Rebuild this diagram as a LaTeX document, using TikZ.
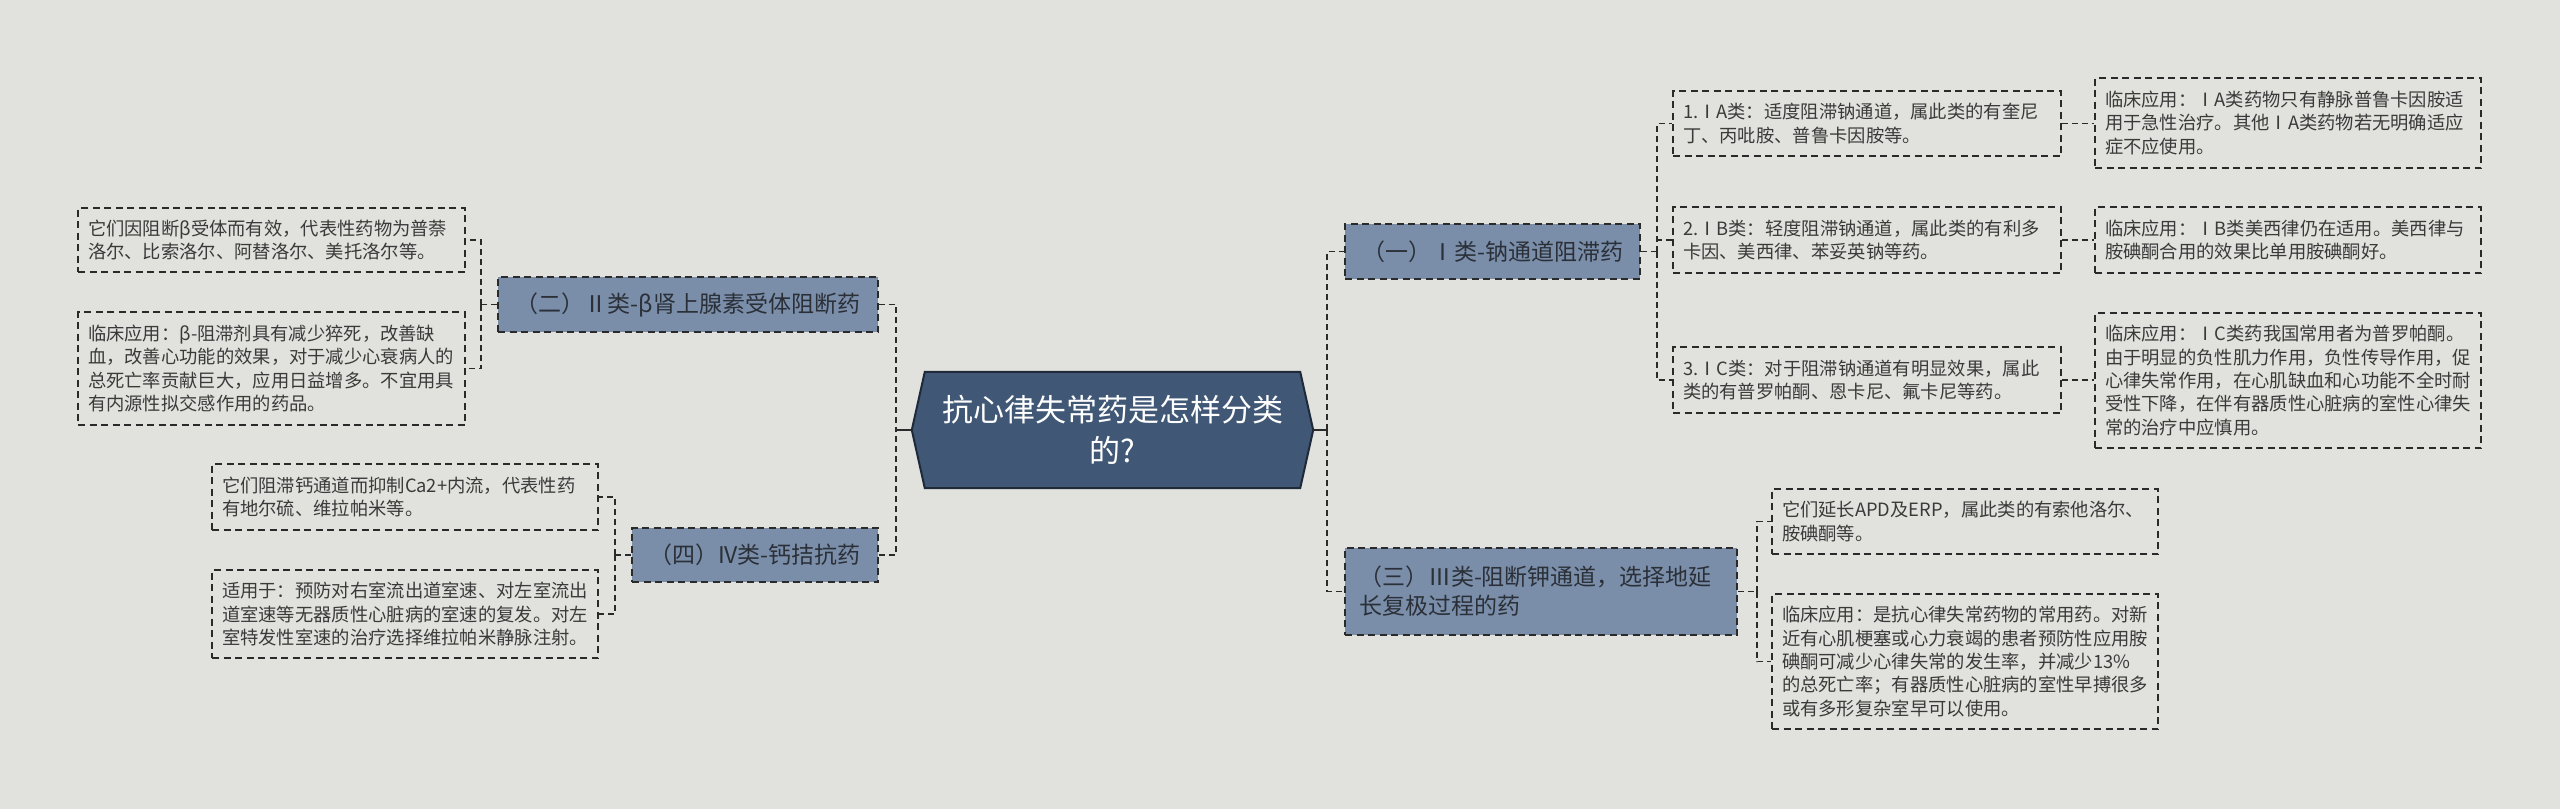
\documentclass[tikz,border=0pt]{standalone}
\usepackage{fontspec}
\newfontfamily\cjk{Noto Sans CJK SC}
\definecolor{bgc}{HTML}{E1E2DD}
\definecolor{rootfill}{HTML}{405876}
\definecolor{rootline}{HTML}{1E2A3A}
\definecolor{branchfill}{HTML}{7A8EAA}
\definecolor{branchtext}{HTML}{2B3038}
\definecolor{leaftext}{HTML}{3A3A3A}
\definecolor{dashc}{HTML}{2A2A2A}
\newcommand{\leaffont}{\cjk\fontsize{18.3}{23.3}\selectfont}
\newcommand{\branchfont}{\cjk\fontsize{23}{29}\selectfont}
\newcommand{\rootfont}{\cjk\fontsize{31}{41}\selectfont}
\tikzset{
  boxdash/.style={draw=dashc, line width=1.4pt, dash pattern=on 7pt off 4.5pt},
  leaf/.style={boxdash, text=leaftext, font=\leaffont, align=left, inner xsep=10pt, inner ysep=0pt, text width=#1},
  leaf/.default=366pt,
  branch/.style={boxdash, fill=branchfill, text=branchtext, font=\branchfont, align=center, inner sep=0pt},
  link/.style={draw=dashc, line width=1.8pt, dash pattern=on 6pt off 4pt},
  rootlink/.style={draw=dashc, line width=1.8pt},
}
\begin{document}
\begin{tikzpicture}[x=1pt,y=-1pt]
\fill[bgc] (0,0) rectangle (2560,809);
\useasboundingbox (0,0) rectangle (2560,809);

% root
\node[minimum width=401pt, minimum height=116pt, inner sep=0pt, text=white, font=\rootfont, align=center] (root) at (1112.5,430) {};
\draw[fill=rootfill, draw=rootline, line width=2pt]
  (root.west) -- ([xshift=13pt]root.north west) -- ([xshift=-13pt]root.north east) -- (root.east)
  -- ([xshift=-13pt]root.south east) -- ([xshift=13pt]root.south west) -- cycle;
\node[text=white, font=\rootfont, align=center, inner sep=0pt] (roottext) at (root.center) {抗心律失常药是怎样分类\\的?};

% branches
\node[branch, minimum width=380pt, minimum height=55pt] (b2) at (688,304.5) {（二）Ⅱ类-β肾上腺素受体阻断药};
\node[branch, minimum width=246pt, minimum height=54pt] (b4) at (755,555) {（四）IV类-钙拮抗药};
\node[branch, minimum width=295pt, minimum height=55pt] (b1) at (1492.5,251.5) {（一）Ⅰ类-钠通道阻滞药};
\node[branch, minimum height=87pt, text width=364pt, inner xsep=14pt, align=left] (b3) at (1541,591.5) {（三）Ⅲ类-阻断钾通道，选择地延\\长复极过程的药};

% left leaves
\node[leaf=367pt, minimum height=64pt] (l1) at (271.5,240) {它们因阻断β受体而有效，代表性药物为普萘\\洛尔、比索洛尔、阿替洛尔、美托洛尔等。};
\node[leaf=367pt, minimum height=113pt] (l2) at (271.5,368.5) {临床应用：β-阻滞剂具有减少猝死，改善缺\\血，改善心功能的效果，对于减少心衰病人的\\总死亡率贡献巨大，应用日益增多。不宜用具\\有内源性拟交感作用的药品。};
\node[leaf, minimum height=66pt] (l3) at (405,497) {它们阻滞钙通道而抑制Ca2+内流，代表性药\\有地尔硫、维拉帕米等。};
\node[leaf, minimum height=88pt] (l4) at (405,614) {适用于：预防对右室流出道室速、对左室流出\\道室速等无器质性心脏病的室速的复发。对左\\室特发性室速的治疗选择维拉帕米静脉注射。};

% right leaves
\node[leaf=368pt, minimum height=65pt] (r1) at (1867,123.5) {1.ⅠA类：适度阻滞钠通道，属此类的有奎尼\\丁、丙吡胺、普鲁卡因胺等。};
\node[leaf, minimum height=90pt] (r1c) at (2288,123) {临床应用：ⅠA类药物只有静脉普鲁卡因胺适\\用于急性治疗。其他ⅠA类药物若无明确适应\\症不应使用。};
\node[leaf=368pt, minimum height=66pt] (r2) at (1867,240) {2.ⅠB类：轻度阻滞钠通道，属此类的有利多\\卡因、美西律、苯妥英钠等药。};
\node[leaf, minimum height=66pt] (r2c) at (2288,240) {临床应用：ⅠB类美西律仍在适用。美西律与\\胺碘酮合用的效果比单用胺碘酮好。};
\node[leaf=368pt, minimum height=66pt] (r3) at (1867,380) {3.ⅠC类：对于阻滞钠通道有明显效果，属此\\类的有普罗帕酮、恩卡尼、氟卡尼等药。};
\node[leaf, minimum height=135pt] (r3c) at (2288,380.5) {临床应用：ⅠC类药我国常用者为普罗帕酮。\\由于明显的负性肌力作用，负性传导作用，促\\心律失常作用，在心肌缺血和心功能不全时耐\\受性下降，在伴有器质性心脏病的室性心律失\\常的治疗中应慎用。};
\node[leaf, minimum height=65pt] (r4) at (1965,521.5) {它们延长APD及ERP，属此类的有索他洛尔、\\胺碘酮等。};
\node[leaf, minimum height=135pt] (r5) at (1965,661.5) {临床应用：是抗心律失常药物的常用药。对新\\近有心肌梗塞或心力衰竭的患者预防性应用胺\\碘酮可减少心律失常的发生率，并减少13\%\\的总死亡率；有器质性心脏病的室性早搏很多\\或有多形复杂室早可以使用。};

% junctions
\coordinate (jl) at (896,430);
\coordinate (jr) at (1327,430);
\coordinate (j1) at (1657,251.5);
\coordinate (j2) at (481,304.5);
\coordinate (j3) at (1757,591.5);
\coordinate (j4) at (615,555);

% connectors
\draw[rootlink] (root.west) -- (jl);
\draw[rootlink] (root.east) -- (jr);
\draw[link] (b2.east) -| (jl);
\draw[link] (b4.east) -| (jl);
\draw[link] (jr) |- (b1.west);
\draw[link] (jr) |- (b3.west);

\draw[link] (b1.east) -- (j1);
\draw[link] (j1) |- (r1.west);
\draw[link] (j1) |- (r2.west);
\draw[link] (j1) |- (r3.west);
\draw[link] (r1.east) -- (r1.east -| r1c.west);
\draw[link] (r2.east) -- (r2c.west);
\draw[link] (r3.east) -- (r3.east -| r3c.west);

\draw[link] (b3.east) -- (j3);
\draw[link] (j3) |- (r4.west);
\draw[link] (j3) |- (r5.west);

\draw[link] (b2.west) -- (j2);
\draw[link] (j2) |- (l1.east);
\draw[link] (j2) |- (l2.east);

\draw[link] (b4.west) -- (j4);
\draw[link] (j4) |- (l3.east);
\draw[link] (j4) |- (l4.east);
\end{tikzpicture}
\end{document}
